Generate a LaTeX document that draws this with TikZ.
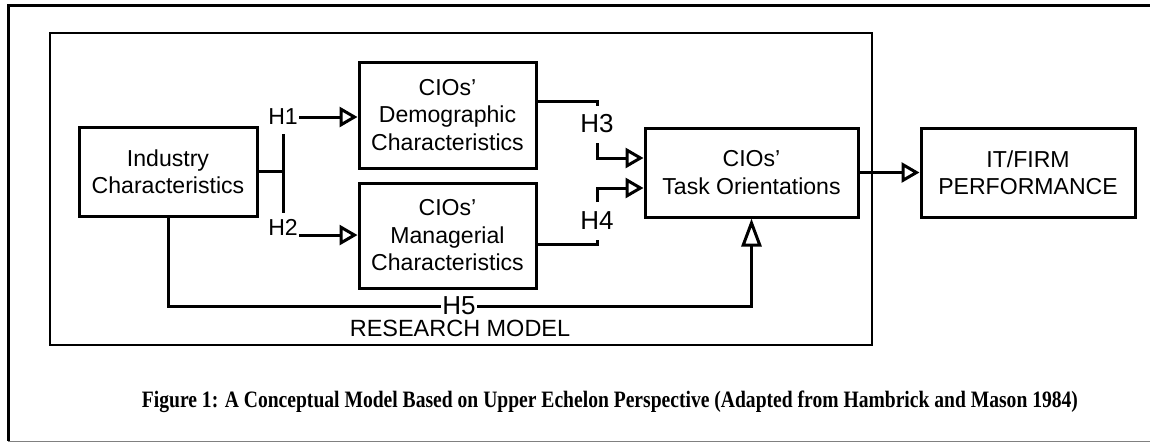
\documentclass[tikz,border=0pt]{standalone}
\usepackage{fontspec}
\setmainfont{Liberation Sans}
\newfontfamily\capfont{Liberation Serif}
\usetikzlibrary{arrows.meta}
\tikzset{%
    pri/.style={line width = 2.25pt},
    pria/.style={line width = 2.25pt, -{Triangle[open, length=13.5pt, width=15pt]}},
    priv/.style={line width = 2.25pt, -{Triangle[open, length=21pt, width=15pt]}},
    fra/.style={line width = 1.5pt},
    blk/.style={rectangle, draw, line width = 2.25pt, align=center, inner sep=0pt,
        font=\fontsize{17.3}{20.6}\selectfont},
    hyp/.style={inner sep=1pt, font=\fontsize{17.3}{20}\selectfont},
    hypb/.style={inner sep=1pt, font=\fontsize{19.5}{22}\selectfont},
    blo/.style={rectangle, fill=white, inner sep=1pt, font=\fontsize{19.5}{22}\selectfont},
}

\begin{document}
\begin{tikzpicture}[x=0.75pt, y=-0.75pt]
    \useasboundingbox (0,0) rectangle (1150,443);
    \clip (0,0) rectangle (1150,443);
    % outer and inner frames
    \draw [pri](1160,5)--(8,5)--(8,441);
    \draw [gray, line width=0.75pt](8,441)--(1160,441);
    \draw [fra](50,33) rectangle (872,345);
    % blocks
    \node[blk, minimum width=133.5pt, minimum height=66.75pt] (ind) at (168,171.5) {Industry\\Characteristics};
    \node[blk, minimum width=132.75pt, minimum height=79.5pt] (demo) at (447.5,115) {CIOs’\\Demographic\\Characteristics};
    \node[blk, minimum width=132.75pt, minimum height=78.75pt] (mgr) at (447.5,235.5) {CIOs’\\Managerial\\Characteristics};
    \node[blk, minimum width=159.75pt, minimum height=66.75pt] (task) at (751.5,172.5) {CIOs’\\Task Orientations};
    \node[blk, minimum width=160.5pt, minimum height=66.75pt] (it) at (1028,172.5) {IT/FIRM\\PERFORMANCE};
    % hypothesis labels
    \node[hyp] (h1) at (283,117) {H1};
    \node[hyp] (h2) at (283,227) {H2};
    \node[hypb] (h3) at (597,124) {H3};
    \node[hypb] (h4) at (597,221) {H4};
    \coordinate (bart) at (283,134);
    \coordinate (barb) at (283,213);
    \coordinate (h3top) at (597,106);
    \coordinate (h3bot) at (597,143);
    \coordinate (h4top) at (597,202);
    \coordinate (h4bot) at (597,240);
    % connectors
    \draw [pri](bart)--(barb);
    \draw [pri](ind.east)--(ind.east -| bart);
    \draw [pria](h1.east)--(h1.east -| demo.west);
    \draw [pria](h2.base east)--(h2.base east -| mgr.west);
    \draw [pri](demo.east |- 0,101) -| (h3top);
    \draw [pria](h3bot) |- (task.west |- 0,158);
    \draw [pri](mgr.east |- 0,244) -| (h4bot);
    \draw [pria](h4top) |- (task.west |- 0,188);
    \draw [priv](ind.south) |- (task.south |- 0,306) -- (task.south);
    \node[blo] (h5) at (459,306) {H5};
    \draw [pria](task.east)--(it.west);
    % titles
    \node[font=\fontsize{17.6}{20}\selectfont] (rm) at (460,328.5) {RESEARCH MODEL};
    \node (cap) at (610,402) {\resizebox{702pt}{!}{\scalebox{1}[1.2]{\capfont\bfseries Figure 1: A Conceptual Model Based on Upper Echelon Perspective (Adapted from Hambrick and Mason 1984)}}};
\end{tikzpicture}
\end{document}
